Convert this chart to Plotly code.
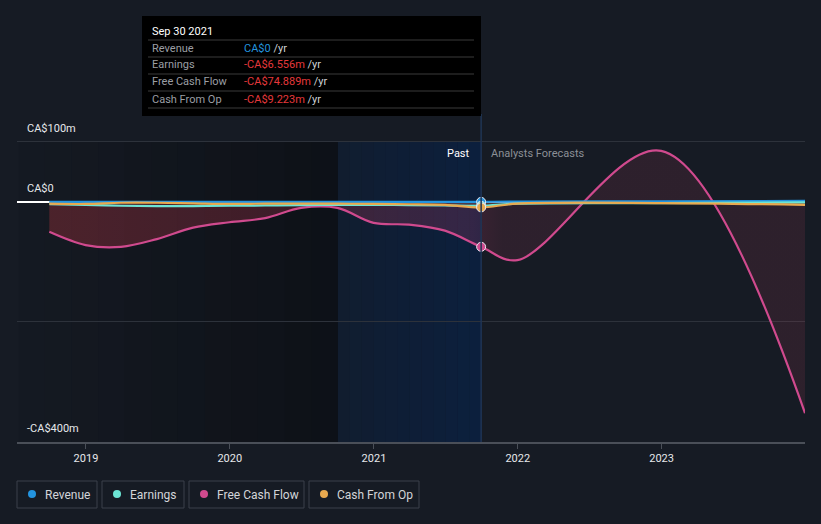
import plotly.graph_objects as go
import datetime

# ---------------- data (CA$ millions) ----------------
past_dates = ["2018-09-30", "2018-12-31", "2019-03-31", "2019-06-30", "2019-09-30",
              "2019-12-31", "2020-03-31", "2020-06-30", "2020-09-30", "2020-12-31",
              "2021-03-31", "2021-06-30", "2021-09-30"]
fc_dates = ["2021-12-31", "2022-12-31", "2023-12-31"]

revenue_past = [0, 0, 0, 0, 0, 0, 0, 0, 0, 0, 0, 0, 0]
earnings_past = [-4, -5, -6.5, -7, -7, -6.5, -6, -5.5, -5, -5, -5.5, -6, -6.556]
fcf_past = [-50, -72, -75, -62, -43, -34, -27, -10, -10, -35, -38, -48, -74.889]
cfo_past = [-3, -3.5, -1.5, -1.5, -2.5, -3.5, -3, -3, -3, -3.5, -4, -5, -9.223]

revenue_fc = [0.5, 1, 1.5]
earnings_fc = [-3, -2, -1]
fcf_fc = [-97, 85, -352]
cfo_fc = [-3, -2, -5]

series_names = ["Revenue", "Earnings", "Free Cash Flow", "Cash From Op"]
series_colors = ["#2394df", "#6ce5d4", "#d04a8e", "#e8a94f"]

ytick_vals = [100, 0, -200, -400]
ytick_text = ["CA$100m", "CA$0", "", "-CA$400m"]
xtick_vals = ["2019-01-01", "2020-01-01", "2021-01-01", "2022-01-01", "2023-01-01"]
xtick_text = ["2019", "2020", "2021", "2022", "2023"]

tooltip_title = "Sep 30 2021"
tooltip_values = ["CA$0", "-CA$6.556m", "-CA$74.889m", "-CA$9.223m"]
tooltip_value_colors = ["#2394df", "#e5383b", "#e5383b", "#e5383b"]

past_start = "2020-09-30"
past_end = "2021-09-30"
x_range = ["2018-07-10", "2023-12-31"]
y_range = [-400, 143]

# ---------------- geometry helpers (figure pixels -> paper) ----------------
W, H = 821, 524
PL, PR, PT, PB = 17, 805, 116, 442


def px(x):
    return x / W


def py(y):
    return 1 - y / H


def yr_to_date(t):
    y = int(t)
    start = datetime.datetime(y, 1, 1)
    end = datetime.datetime(y + 1, 1, 1)
    d = start + (end - start) * (t - y)
    return d.strftime("%Y-%m-%d %H:%M")


BG = "#161b24"
fig = go.Figure()

dates_all = past_dates + fc_dates
all_series = [revenue_past + revenue_fc, earnings_past + earnings_fc,
              fcf_past + fcf_fc, cfo_past + cfo_fc]

# fills first
fig.add_trace(go.Scatter(
    x=dates_all, y=all_series[2], mode="lines", line=dict(width=0, shape="spline"),
    fill="tozeroy",
    fillgradient=dict(type="horizontal", colorscale=[
        [0.0, "rgba(225,60,70,0.27)"], [0.56, "rgba(210,65,110,0.20)"],
        [0.6, "rgba(215,70,110,0.12)"], [1.0, "rgba(215,70,100,0.12)"]]),
    hoverinfo="skip", showlegend=False))
fig.add_trace(go.Scatter(
    x=dates_all, y=all_series[3], mode="lines", line=dict(width=0, shape="spline"),
    fill="tozeroy", fillcolor="rgba(232,169,79,0.15)", hoverinfo="skip", showlegend=False))

# lines
for i in [2, 0, 1, 3]:
    fig.add_trace(go.Scatter(
        x=dates_all, y=all_series[i], mode="lines", name=series_names[i],
        line=dict(color=series_colors[i], width=2.2, shape="spline", smoothing=1),
        showlegend=False, hoverinfo="skip"))

# markers at last actual point
for i in [0, 1, 3, 2]:
    vals = [revenue_past, earnings_past, fcf_past, cfo_past][i]
    fig.add_trace(go.Scatter(
        x=[past_dates[-1]], y=[vals[-1]], mode="markers",
        marker=dict(color=series_colors[i], size=9, line=dict(color="#e8e8f0", width=1)),
        showlegend=False, hoverinfo="skip"))

shapes = []
n = 12
# darker left region gradient (below the top gridline)
t0, t1 = 2018.53, 2020.75
for k in range(n):
    a = t0 + (t1 - t0) * k / n
    b = t0 + (t1 - t0) * (k + 1) / n
    shapes.append(dict(type="rect", xref="x", yref="y", x0=yr_to_date(a), x1=yr_to_date(b),
                       y0=y_range[0], y1=ytick_vals[0],
                       fillcolor="rgba(5,7,10,%.3f)" % (0.03 + 0.45 * (k + 0.5) / n),
                       line=dict(width=0), layer="below"))
# past blue region gradient
t0, t1 = 2020.75, 2021.75
for k in range(n):
    a = t0 + (t1 - t0) * k / n
    b = t0 + (t1 - t0) * (k + 1) / n
    shapes.append(dict(type="rect", xref="x", yref="y", x0=yr_to_date(a), x1=yr_to_date(b),
                       y0=y_range[0], y1=ytick_vals[0],
                       fillcolor="rgba(12,32,62,%.3f)" % (0.45 + 0.55 * (k + 0.5) / n),
                       line=dict(width=0), layer="below"))
# vertical now line
shapes.append(dict(type="line", xref="x", yref="paper", x0=past_end, x1=past_end,
                   y0=py(PB), y1=py(PT - 2), line=dict(color="#1f3554", width=1.5)))

# tooltip
TX0, TX1, TY0, TY1 = 142, 481, 16, 116
shapes.append(dict(type="rect", xref="paper", yref="paper", x0=px(TX0), x1=px(TX1),
                   y0=py(TY1), y1=py(TY0), fillcolor="#000000", line=dict(width=0)))
for yy in [40, 57, 74, 91, 108]:
    shapes.append(dict(type="line", xref="paper", yref="paper", x0=px(148), x1=px(474),
                       y0=py(yy), y1=py(yy), line=dict(color="#3a3a3a", width=1)))

# legend boxes
legend_boxes = [(17, 97), (102, 184), (189, 304), (309, 419)]
for (a, b), c in zip(legend_boxes, series_colors):
    shapes.append(dict(type="rect", xref="paper", yref="paper", x0=px(a), x1=px(b),
                       y0=py(508), y1=py(481), line=dict(color="#3b404a", width=1),
                       fillcolor="rgba(0,0,0,0)"))
    shapes.append(dict(type="circle", xref="paper", yref="paper", x0=px(a + 11), x1=px(a + 19),
                       y0=py(498), y1=py(490), fillcolor=c, line=dict(width=0)))

annotations = []
FONT = "Roboto, Noto Sans, sans-serif"
annotations.append(dict(xref="paper", yref="paper", x=px(150), y=py(31), text=tooltip_title,
                        showarrow=False, xanchor="left", yanchor="middle",
                        font=dict(family=FONT, size=11, color="#ffffff")))
for k, (nm, v, vc) in enumerate(zip(series_names, tooltip_values, tooltip_value_colors)):
    yy = 48 + 17 * k
    annotations.append(dict(xref="paper", yref="paper", x=px(150), y=py(yy), text=nm,
                            showarrow=False, xanchor="left", yanchor="middle",
                            font=dict(family=FONT, size=11, color="#9b9ea4")))
    annotations.append(dict(xref="paper", yref="paper", x=px(242), y=py(yy),
                            text="<span style='color:%s'>%s</span> /yr" % (vc, v),
                            showarrow=False, xanchor="left", yanchor="middle",
                            font=dict(family=FONT, size=11, color="#cfd2d6")))

annotations.append(dict(xref="paper", yref="paper", x=px(472), y=py(153), text="Past",
                        showarrow=False, xanchor="right", yanchor="middle",
                        font=dict(family=FONT, size=11, color="#ffffff")))
annotations.append(dict(xref="paper", yref="paper", x=px(489), y=py(153), text="Analysts Forecasts",
                        showarrow=False, xanchor="left", yanchor="middle",
                        font=dict(family=FONT, size=11, color="#8b8f96")))

# y labels (drawn inside plot above gridlines)
for v, t in zip(ytick_vals, ytick_text):
    if t:
        annotations.append(dict(xref="paper", yref="y", x=px(25), y=v, text=t, showarrow=False,
                                xanchor="left", yanchor="bottom", yshift=5,
                                font=dict(family=FONT, size=11, color="#e6e8eb")))

for (a, b), nm in zip(legend_boxes, series_names):
    annotations.append(dict(xref="paper", yref="paper", x=px(a + 26), y=py(494.5), text=nm,
                            showarrow=False, xanchor="left", yanchor="middle",
                            font=dict(family=FONT, size=12, color="#d3d5d9")))

fig.update_layout(
    width=W, height=H, margin=dict(l=0, r=0, t=0, b=0),
    paper_bgcolor=BG, plot_bgcolor=BG,
    shapes=shapes, annotations=annotations, showlegend=False,
    xaxis=dict(domain=[px(PL), px(PR)], type="date", range=x_range,
               tickvals=xtick_vals, ticktext=xtick_text, showgrid=False,
               showline=True, linecolor="#4a4f58", linewidth=1.5,
               ticks="outside", ticklen=5, tickcolor="#4a4f58",
               tickfont=dict(family=FONT, size=11, color="#e6e8eb"), zeroline=False),
    yaxis=dict(domain=[py(PB), py(PT)], range=y_range, tickvals=ytick_vals,
               showticklabels=False, showgrid=True, gridcolor="#2d323b", gridwidth=1,
               zeroline=True, zerolinecolor="#ffffff", zerolinewidth=1.5, showline=False),
)

fig.write_html("out.html")
